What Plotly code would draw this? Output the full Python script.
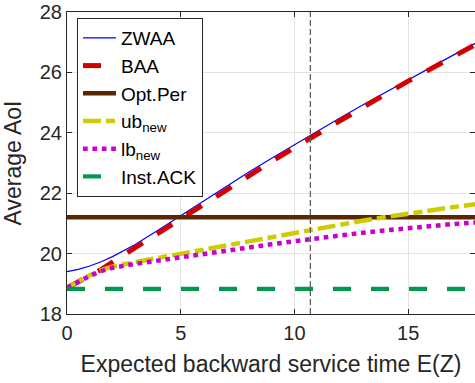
import plotly.graph_objects as go

# ---- data ----
ez = [0, 0.5, 1, 1.5, 2, 3, 4, 5, 6, 7, 8, 9, 10, 11, 12, 13, 14, 15, 16, 17, 18]
zwaa = [19.40, 19.48, 19.59, 19.73, 19.90, 20.30, 20.77, 21.25, 21.75, 22.23, 22.70,
        23.16, 23.61, 24.05, 24.49, 24.92, 25.34, 25.76, 26.17, 26.58, 26.98]
baa = [18.87, 19.06, 19.25, 19.47, 19.72, 20.20, 20.68, 21.15, 21.63, 22.10, 22.58,
       23.05, 23.51, 23.96, 24.41, 24.85, 25.28, 25.71, 26.12, 26.53, 26.94]
opt_per = [21.20] * len(ez)
ub_new = [18.87, 19.08, 19.28, 19.45, 19.57, 19.72, 19.84, 19.99, 20.13, 20.27, 20.41,
          20.55, 20.69, 20.83, 20.96, 21.09, 21.21, 21.33, 21.44, 21.54, 21.64]
lb_new = [18.87, 19.07, 19.26, 19.42, 19.53, 19.66, 19.77, 19.90, 20.01, 20.11, 20.21,
          20.31, 20.41, 20.51, 20.60, 20.69, 20.77, 20.85, 20.92, 20.98, 21.03]
inst_ack = [18.83] * len(ez)
ez_marker = 10.7

x_ticks = [0, 5, 10, 15]
y_ticks = [18, 20, 22, 24, 26, 28]

FONT = "Liberation Sans, Arial, Helvetica, sans-serif"
TXT = "#262626"

fig = go.Figure()
fig.add_trace(go.Scatter(x=ez, y=zwaa, mode="lines", name="ZWAA",
                         line=dict(color="#0000ff", width=1.2)))
fig.add_trace(go.Scatter(x=ez, y=baa, mode="lines", name="BAA",
                         line=dict(color="#d40000", width=5, dash="18px,17px")))
fig.add_trace(go.Scatter(x=ez, y=opt_per, mode="lines", name="Opt.Per",
                         line=dict(color="#5a2800", width=4.5)))
fig.add_trace(go.Scatter(x=ez, y=ub_new, mode="lines", name="ub<sub>new</sub>",
                         line=dict(color="#cccc00", width=4.5, dash="18px,5px,9px,5px")))
fig.add_trace(go.Scatter(x=ez, y=lb_new, mode="lines", name="lb<sub>new</sub>",
                         line=dict(color="#cc00cc", width=4.5, dash="4.7px,4.7px")))
fig.add_trace(go.Scatter(x=ez, y=inst_ack, mode="lines", name="Inst.ACK",
                         line=dict(color="#00994d", width=4.2, dash="18px,20px")))
# helper trace for right-side ticks
fig.add_trace(go.Scatter(x=[None], y=[None], yaxis="y2", showlegend=False,
                         hoverinfo="skip"))

fig.add_vline(x=ez_marker, line=dict(color="#555555", width=1.2, dash="6px,3px"))

fig.update_layout(
    width=475, height=383,
    margin=dict(l=67, r=0, t=12, b=69),
    paper_bgcolor="white", plot_bgcolor="white",
    font=dict(family=FONT, color=TXT, size=19),
    showlegend=True,
    legend=dict(x=0.0245, y=0.98, xanchor="left", yanchor="top",
                bgcolor="white", bordercolor=TXT, borderwidth=1,
                font=dict(family=FONT, size=19, color="black"),
                tracegroupgap=0, itemwidth=33),
    xaxis=dict(range=[0, 17.94], tickvals=x_ticks, ticks="inside", ticklen=5,
               tickcolor=TXT, showline=True, linecolor=TXT, linewidth=1,
               mirror="ticks", showgrid=True, gridcolor="#e3e3e3", gridwidth=1,
               zeroline=False, tickfont=dict(size=20, color=TXT),
               ticklabelstandoff=1, ticklabeloverflow="allow",
               title=dict(text="Expected backward service time E(Z)",
                          font=dict(size=23, color=TXT), standoff=12)),
    yaxis=dict(range=[18, 28], tickvals=y_ticks, ticks="inside", ticklen=5,
               tickcolor=TXT, showline=True, linecolor=TXT, linewidth=1,
               mirror=False, showgrid=True, gridcolor="#e3e3e3", gridwidth=1,
               zeroline=False, tickfont=dict(size=20, color=TXT),
               ticklabelstandoff=0, ticklabeloverflow="allow",
               title=dict(text="Average AoI", font=dict(size=23, color=TXT),
                          standoff=12)),
    yaxis2=dict(range=[18, 28], overlaying="y", side="right", tickvals=y_ticks,
                ticks="inside", ticklen=5, tickcolor=TXT, showticklabels=False,
                showline=False, showgrid=False, zeroline=False),
)

fig.write_html(
    "out.html",
    config={"displayModeBar": False},
    post_script="document.body.style.margin='0';document.body.style.overflow='hidden';",
)
